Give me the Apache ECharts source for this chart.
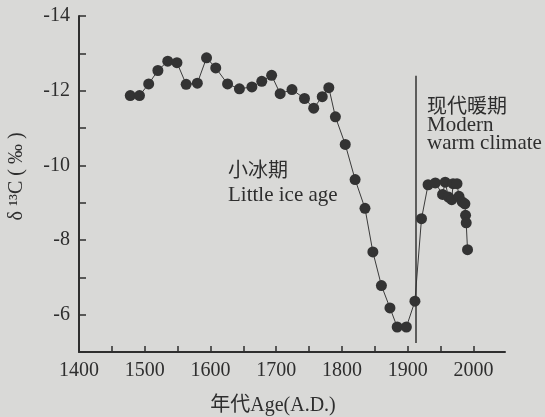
<!DOCTYPE html>
<html><head><meta charset="utf-8">
<script src="https://cdn.jsdelivr.net/npm/echarts@6/dist/echarts.min.js"></script>
<style>html,body{margin:0;padding:0;background:#d9d9d7;}#c{width:545px;height:417px;}</style>
</head><body><div id="c"></div>
<script>
var years = [1478,1492,1506,1520,1535,1549,1563,1580,1594,1608,1626,1644,1663,1678,1693,1706,1724,1743,1757,1770,1780,1790,1805,1820,1835,1847,1860,1873,1884,1898,1911,1921,1931,1942,1953,1957,1962,1967,1969,1975,1978,1983,1987,1988,1989,1991];
var d13C = [-11.87,-11.87,-12.18,-12.54,-12.79,-12.75,-12.17,-12.20,-12.88,-12.61,-12.18,-12.05,-12.10,-12.25,-12.41,-11.92,-12.03,-11.79,-11.53,-11.84,-12.08,-11.30,-10.56,-9.62,-8.85,-7.68,-6.78,-6.18,-5.67,-5.67,-6.36,-8.57,-9.48,-9.53,-9.22,-9.55,-9.15,-9.08,-9.51,-9.51,-9.17,-9.02,-8.97,-8.66,-8.46,-7.74];
var xTickValues = [1400,1450,1500,1550,1600,1650,1700,1750,1800,1850,1900,1950,2000];
var xLabelValues = [1400,1500,1600,1700,1800,1900,2000];
var yLabelValues = [-14,-12,-10,-8,-6];
var dividerYear = 1912;
var dividerRange = [-12.4,-5.24];

var font = '"Liberation Serif","Times New Roman",serif';
var cjk = '"Liberation Serif","Noto Sans CJK SC",serif';
var ink = '#2e2e2e';
var chart = echarts.init(document.getElementById('c'));
chart.setOption({
  backgroundColor: '#d9d9d7',
  animation: false,
  grid: {left: 79, right: 40, top: 16, bottom: 65, containLabel: false, outerBoundsMode: 'none'},
  xAxis: {
    type: 'value', min: 1400, max: 2048,
    splitLine: {show: false},
    axisLine: {lineStyle: {color: ink, width: 2}},
    axisTick: {inside: true, length: 6, lineStyle: {color: ink, width: 1.5}, customValues: xTickValues},
    axisLabel: {customValues: xLabelValues, color: ink, fontFamily: font, fontSize: 20, margin: 9,
      formatter: function(v){ return String(v); }},
    name: '年代Age(A.D.)', nameLocation: 'middle', nameGap: 44,
    nameTextStyle: {color: ink, fontFamily: cjk, fontSize: 20, padding: [0, 38, 0, 0]}
  },
  yAxis: {
    type: 'value', min: -14, max: -5, interval: 1, inverse: true,
    splitLine: {show: false},
    axisLine: {lineStyle: {color: ink, width: 2}},
    axisTick: {inside: true, length: 7, lineStyle: {color: ink, width: 1.5}},
    axisLabel: {customValues: yLabelValues, color: ink, fontFamily: font, fontSize: 20, margin: 9,
      formatter: function(v){ return String(v); }},
    name: 'δ ¹³C ( ‰ )', nameLocation: 'middle', nameGap: 52, nameRotate: 90,
    nameTextStyle: {color: ink, fontFamily: cjk, fontSize: 20, padding: [0, 0, 0, 15]}
  },
  series: [{
    type: 'line',
    data: years.map(function(y,i){return [y, d13C[i]];}),
    symbol: 'circle', symbolSize: 11,
    lineStyle: {color: '#3a3a3a', width: 1},
    itemStyle: {color: '#333333'},
    markLine: {
      silent: true, symbol: 'none', label: {show: false},
      lineStyle: {color: '#333', width: 1.5, type: 'solid'},
      data: [[{coord: [dividerYear, dividerRange[0]]}, {coord: [dividerYear, dividerRange[1]]}]]
    }
  }],
  graphic: [
    {type: 'text', left: 228, top: 162, style: {text: '小冰期', fill: ink, font: '20px ' + cjk}},
    {type: 'text', left: 228, top: 185, style: {text: 'Little ice age', fill: ink, font: '21px ' + font}},
    {type: 'text', left: 427, top: 98, style: {text: '现代暖期', fill: ink, font: '20px ' + cjk}},
    {type: 'text', left: 427, top: 115, style: {text: 'Modern', fill: ink, font: '21px ' + font}},
    {type: 'text', left: 427, top: 133, style: {text: 'warm climate', fill: ink, font: '21px ' + font}}
  ]
});
</script></body></html>
